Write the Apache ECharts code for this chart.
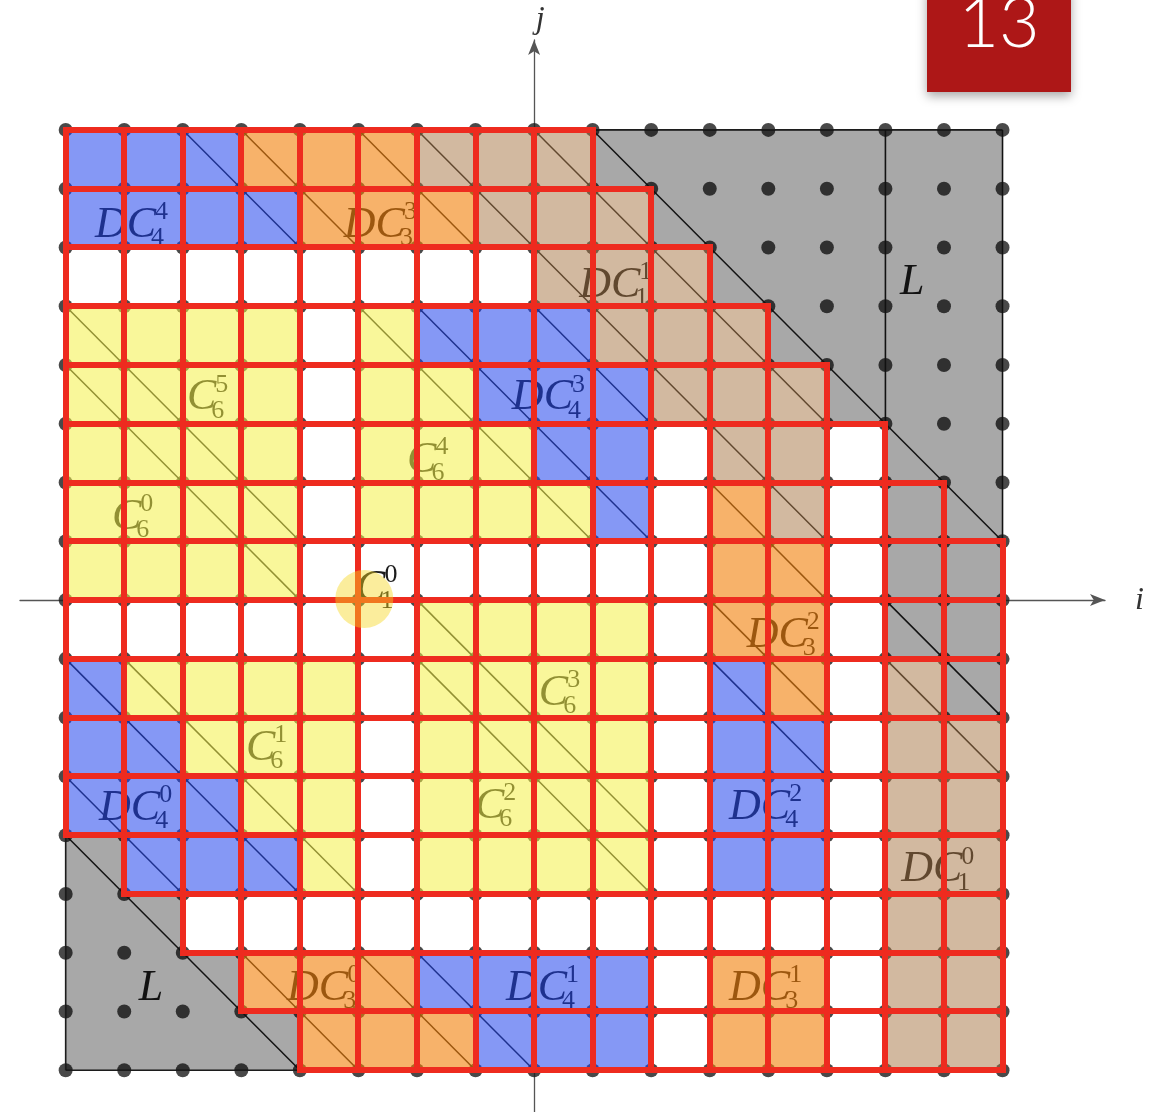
<!DOCTYPE html>
<html>
<head>
<meta charset="utf-8">
<script src="https://cdn.jsdelivr.net/npm/echarts@6/dist/echarts.min.js"></script>
<style>
  html, body { margin: 0; padding: 0; background: #ffffff; }
  #chart { width: 1166px; height: 1112px; }
</style>
</head>
<body>
<div id="chart"></div>
<script>
// Lattice coordinates (integer points of the square [-8, 8] x [-8, 8])
const LATTICE = [-8, -7, -6, -5, -4, -3, -2, -1, 0, 1, 2, 3, 4, 5, 6, 7, 8];
// Lower-left i of each cell column, and lower-left j of each cell row (top row first)
const COL_I = [-8, -7, -6, -5, -4, -3, -2, -1, 0, 1, 2, 3, 4, 5, 6, 7];
const ROW_J = [7, 6, 5, 4, 3, 2, 1, 0, -1, -2, -3, -4, -5, -6, -7, -8];

// Cell classes, one string per row (top row first).
// Y = C6 cells, B = DC4, O = DC3, T = DC1, W = empty cell of the domain,
// G = lattice cell L inside the domain outline, . = lattice region L outside it
const CELL_ROWS = [
  "BBBOOOTTT.......",
  "BBBBOOOTTT......",
  "WWWWWWWWTTT.....",
  "YYYYWYBBBTTT....",
  "YYYYWYYBBBTTT...",
  "YYYYWYYYBBWTTW..",
  "YYYYWYYYYBWOTWG.",
  "YYYYWWWWWWWOOWGG",
  "WWWWWWYYYYWOOWGG",
  "BYYYYWYYYYWBOWTG",
  "BBYYYWYYYYWBBWTT",
  "BBBYYWYYYYWBBWTT",
  ".BBBYWYYYYWBBWTT",
  "..WWWWWWWWWWWWTT",
  "...OOOBBBBWOOWTT",
  "....OOOBBBWOOWTT"
];

// Cells crossed by an anti-diagonal (top-left to bottom-right corner)
const DIAG_ROWS = [
  "..xx.xx.xx......",
  "...xx.xx.xx.....",
  "........x.xx....",
  "x....xx.xx.xx...",
  "xx....xx.xx.xx..",
  ".xx....xx..x..x.",
  "..xx....xx.xx..x",
  "...x........x...",
  "......x....x..x.",
  "xx....xx...xx.xx",
  ".xx....xx...x..x",
  "x.xx....xx......",
  "xx.xx....x......",
  ".x..............",
  "..xx.xx.........",
  "...xx.xx........"
];

// Frame of the square and the boundary of the fundamental domain L
const FRAME_LINES = [
  [[-8, -8], [8, -8]],
  [[8, -8], [8, 8]],
  [[8, 8], [-8, 8]],
  [[-8, 8], [-8, -8]],
  [[6, 8], [6, 3]]
];

// Region names: base letters, superscript, subscript, anchor (left edge, mid height) in (i, j)
const LABELS = [
  { base: "DC", sup: "4", sub: "4", at: [-7.50, 6.38] },
  { base: "DC", sup: "3", sub: "3", at: [-3.25, 6.38] },
  { base: "DC", sup: "1", sub: "1", at: [0.77, 5.36] },
  { base: "L",  sup: "",  sub: "",  at: [6.25, 5.41] },
  { base: "C",  sup: "5", sub: "6", at: [-5.93, 3.44] },
  { base: "DC", sup: "3", sub: "4", at: [-0.38, 3.44] },
  { base: "C",  sup: "4", sub: "6", at: [-2.17, 2.38] },
  { base: "C",  sup: "0", sub: "6", at: [-7.21, 1.41] },
  { base: "C",  sup: "0", sub: "1", at: [-3.04, 0.20] },
  { base: "DC", sup: "2", sub: "3", at: [3.63, -0.60] },
  { base: "C",  sup: "3", sub: "6", at: [0.08, -1.58] },
  { base: "C",  sup: "1", sub: "6", at: [-4.92, -2.52] },
  { base: "DC", sup: "0", sub: "4", at: [-7.43, -3.54] },
  { base: "C",  sup: "2", sub: "6", at: [-1.01, -3.51] },
  { base: "DC", sup: "2", sub: "4", at: [3.33, -3.52] },
  { base: "DC", sup: "0", sub: "1", at: [6.27, -4.59] },
  { base: "L",  sup: "",  sub: "",  at: [-6.75, -6.60] },
  { base: "DC", sup: "0", sub: "3", at: [-4.22, -6.60] },
  { base: "DC", sup: "1", sub: "4", at: [-0.48, -6.60] },
  { base: "DC", sup: "1", sub: "3", at: [3.33, -6.60] }
];

// Pointer highlight position
const HIGHLIGHT = [[-2.90, 0.02]];

// Translucent fills laid over the black lattice drawing
const FILL = {
  Y: "rgba(244,240,71,0.55)",
  B: "rgba(33,68,237,0.55)",
  O: "rgba(242,127,7,0.6)",
  T: "rgba(165,115,65,0.5)",
  G: "rgba(0,0,0,0.34)",
  ".": "rgba(0,0,0,0.34)"
};

// ---- derived item lists ----
const cells = [];
ROW_J.forEach((j, r) => {
  COL_I.forEach((i, c) => cells.push({ i: i, j: j, code: CELL_ROWS[r][c] }));
});
const diagCells = [];
ROW_J.forEach((j, r) => {
  COL_I.forEach((i, c) => { if (DIAG_ROWS[r][c] === "x") diagCells.push([i, j]); });
});
const latticePoints = [];
LATTICE.forEach(j => LATTICE.forEach(i => latticePoints.push([i, j])));

const measureCtx = document.createElement("canvas").getContext("2d");
function textWidth(str, font) { measureCtx.font = font; return measureCtx.measureText(str).width; }

// Cell rectangle snapped to whole pixels so neighbouring translucent cells meet without seams
function cellShape(api, i, j) {
  const p0 = api.coord([i, j + 1]);
  const p1 = api.coord([i + 1, j]);
  const x0 = Math.round(p0[0]), y0 = Math.round(p0[1]);
  const x1 = Math.round(p1[0]), y1 = Math.round(p1[1]);
  return { x: x0, y: y0, width: x1 - x0, height: y1 - y0 };
}

const MAIN_FONT = 'italic 44px "Liberation Serif", "DejaVu Serif", serif';
const SMALL_FONT = '26px "Liberation Serif", "DejaVu Serif", serif';
const RED = "#ee2b1f";
const INK = "#1c1c1c";

const chart = echarts.init(document.getElementById("chart"), null, { renderer: "canvas" });

chart.setOption({
  animation: false,
  backgroundColor: "#ffffff",
  grid: { left: 20, right: 61, top: 40, bottom: 0, containLabel: false },
  xAxis: {
    type: "value", min: -8.78, max: 9.75,
    axisLine: { show: true, onZero: true, symbol: ["none", "arrow"], symbolSize: [9, 15],
      lineStyle: { color: "#555555", width: 1.3 } },
    axisTick: { show: false }, axisLabel: { show: false }, splitLine: { show: false },
    name: "i", nameLocation: "end", nameGap: 30,
    nameTextStyle: { fontFamily: "Liberation Serif", fontStyle: "italic", fontSize: 32, color: "#333333",
      padding: [10, 0, 0, 0] }
  },
  yAxis: {
    type: "value", min: -8.71, max: 9.53,
    axisLine: { show: true, onZero: true, symbol: ["none", "arrow"], symbolSize: [9, 15],
      lineStyle: { color: "#555555", width: 1.3 } },
    axisTick: { show: false }, axisLabel: { show: false }, splitLine: { show: false },
    name: "j", nameLocation: "end", nameGap: 4,
    nameTextStyle: { fontFamily: "Liberation Serif", fontStyle: "italic", fontSize: 32, color: "#333333",
      padding: [0, 0, 0, 12] }
  },
  series: [
    {
      // frame and L boundary
      type: "custom", z: 2, silent: true,
      data: FRAME_LINES.map(s => [s[0][0], s[0][1], s[1][0], s[1][1]]),
      renderItem: function (params, api) {
        const a = api.coord([api.value(0), api.value(1)]);
        const b = api.coord([api.value(2), api.value(3)]);
        return { type: "line", shape: { x1: a[0], y1: a[1], x2: b[0], y2: b[1] },
          style: { stroke: INK, lineWidth: 1.6 } };
      }
    },
    {
      // anti-diagonals
      type: "custom", z: 2, silent: true,
      data: diagCells,
      renderItem: function (params, api) {
        const i = api.value(0), j = api.value(1);
        const a = api.coord([i, j + 1]);
        const b = api.coord([i + 1, j]);
        return { type: "line", shape: { x1: a[0], y1: a[1], x2: b[0], y2: b[1] },
          style: { stroke: INK, lineWidth: 1.5 } };
      }
    },
    {
      // lattice points
      type: "scatter", z: 2, silent: true,
      symbol: "circle", symbolSize: 14,
      itemStyle: { color: INK },
      data: latticePoints
    },
    {
      // region names
      type: "custom", z: 2, silent: true,
      data: LABELS.map(l => l.at),
      renderItem: function (params, api) {
        const l = LABELS[params.dataIndex];
        const p = api.coord([api.value(0), api.value(1)]);
        const w = textWidth(l.base, MAIN_FONT);
        const children = [{
          type: "text",
          style: { text: l.base, x: p[0], y: p[1], font: MAIN_FONT, fill: INK,
            align: "left", verticalAlign: "middle" }
        }];
        if (l.sup) children.push({
          type: "text",
          style: { text: l.sup, x: p[0] + w - 1, y: p[1] - 13, font: SMALL_FONT, fill: INK,
            align: "left", verticalAlign: "middle" }
        });
        if (l.sub) children.push({
          type: "text",
          style: { text: l.sub, x: p[0] + w - 5, y: p[1] + 13, font: SMALL_FONT, fill: INK,
            align: "left", verticalAlign: "middle" }
        });
        return { type: "group", children: children };
      }
    },
    {
      // translucent cell fills
      type: "custom", z: 3, silent: true,
      data: cells.map(c => [c.i, c.j]),
      renderItem: function (params, api) {
        const code = cells[params.dataIndex].code;
        const fill = FILL[code];
        if (!fill) return null;
        return { type: "rect", shape: cellShape(api, api.value(0), api.value(1)),
          style: { fill: fill, stroke: null } };
      }
    },
    {
      // red outline of the domain cells
      type: "custom", z: 4, silent: true,
      data: cells.filter(c => c.code !== ".").map(c => [c.i, c.j]),
      renderItem: function (params, api) {
        return { type: "rect", shape: cellShape(api, api.value(0), api.value(1)),
          style: { fill: null, stroke: RED, lineWidth: 6 } };
      }
    },
    {
      // pointer highlight
      type: "scatter", z: 5, silent: true,
      symbol: "circle", symbolSize: 58,
      itemStyle: { color: "rgba(245,215,30,0.55)" },
      data: HIGHLIGHT
    }
  ],
  graphic: [
    { type: "rect", z: 100, shape: { x: 927, y: -12, width: 144, height: 104 },
      style: { fill: "#ad1717", shadowBlur: 10, shadowOffsetY: 4, shadowColor: "rgba(0,0,0,0.35)" } },
    { type: "text", z: 101,
      style: { text: "13", x: 999, y: 24, align: "center", verticalAlign: "middle",
        font: '300 70px "Lato", "Open Sans", sans-serif', fill: "#ffffff" } }
  ]
});
</script>
</body>
</html>
